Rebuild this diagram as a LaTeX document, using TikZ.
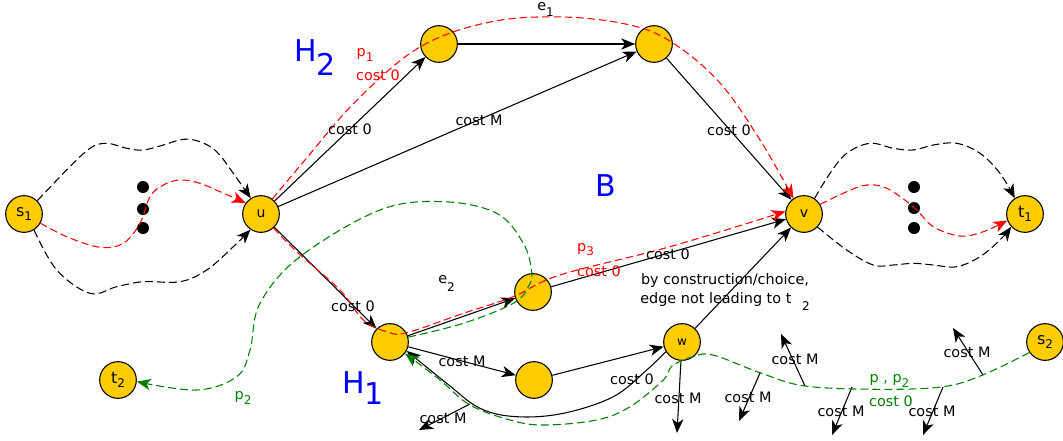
\documentclass[tikz,border=0pt]{standalone}
\usepackage{fontspec}
\setmainfont{DejaVu Sans}
\usetikzlibrary{arrows.meta}
\definecolor{nodefill}{HTML}{FFCC00}
\definecolor{pgreen}{HTML}{008000}
\newcommand{\sbs}[2][-3.5pt]{\raisebox{#1}{\fontsize{9}{9}\selectfont #2}}
\begin{document}
\begin{tikzpicture}[x=0.75pt,y=-0.75pt,
  vtx/.style={circle,draw=black,line width=0.8pt,fill=nodefill,minimum size=27.5pt,inner sep=0pt,font=\fontsize{12}{12}\selectfont},
  dotn/.style={circle,fill=black,minimum size=9pt,inner sep=0pt},
  lbl/.style={inner sep=0pt,font=\fontsize{10.8}{12}\selectfont},
  big/.style={inner sep=0pt,text=blue,font=\fontsize{22.5}{24}\selectfont},
  tip/.style={-{Stealth[length=10.5pt,width=8.5pt,inset=3pt]}},
  edge/.style={draw=black,line width=0.8pt,tip},
  bdash/.style={draw=black,line width=0.8pt,dash pattern=on 6pt off 3pt,tip},
  rdash/.style={draw=red,line width=0.8pt,dash pattern=on 5.5pt off 3pt,tip},
  gdash/.style={draw=pgreen,line width=0.8pt,dash pattern=on 6pt off 3pt,tip},
]
\useasboundingbox (0,0) rectangle (1063,440);

% vertices
\node[vtx] (s1) at (24,214) {s\sbs{1}};
\node[vtx,font=\fontsize{10.5}{11}\selectfont] (u) at (261,214) {u};
\node[vtx] (tl) at (439,44) {};
\node[vtx] (tr) at (654,44) {};
\node[vtx,font=\fontsize{10.5}{11}\selectfont] (v) at (804,214) {v};
\node[vtx] (t1) at (1025,214) {t\sbs{1}};
\node[vtx] (x1) at (390,342) {};
\node[vtx] (e2n) at (533,292) {};
\node[vtx] (bm) at (534,380) {};
\node[vtx,font=\fontsize{9}{9}\selectfont] (w) at (682,342) {w};
\node[vtx] (s2) at (1045,342) {s\sbs{2}};
\node[vtx] (t2) at (118,380) {t\sbs{2}};

% dots
\node[dotn] (dl1) at (143,187) {};
\node[dotn] (dl2) at (143,209) {};
\node[dotn] (dl3) at (143,228) {};
\node[dotn] (dr1) at (914,187) {};
\node[dotn] (dr2) at (914,208) {};
\node[dotn] (dr3) at (914,228) {};

% free ends
\coordinate (wd) at (677,433);
\coordinate (ll1) at (470,404);
\coordinate (ll2) at (419,430);
\coordinate (a1s) at (760,373); \coordinate (a1e) at (739,421);
\coordinate (a2s) at (805,386); \coordinate (a2e) at (781,334);
\coordinate (a3s) at (852,387); \coordinate (a3e) at (832,435);
\coordinate (a4s) at (943,387); \coordinate (a4e) at (923,435);
\coordinate (a5s) at (983,375); \coordinate (a5e) at (953,328);

% black solid edges
\draw[edge] (u) -- (tl);
\draw[edge] (u) -- (tr);
\draw[edge] (tl) -- (tr);
\draw[edge] (tr) -- (v);
\draw[edge] (u) -- (x1);
\draw[edge] (x1) -- (e2n);
\draw[edge] (e2n) -- (v);
\draw[edge] (x1) -- (bm);
\draw[edge] (bm) -- (w);
\draw[edge] (w) -- (v);
\draw[edge] (w) -- (wd);
\draw[edge] (ll1) -- (ll2);
\draw[edge] (a1s) -- (a1e);
\draw[edge] (a2s) -- (a2e);
\draw[edge] (a3s) -- (a3e);
\draw[edge] (a4s) -- (a4e);
\draw[edge] (a5s) -- (a5e);
\draw[edge] plot[smooth,tension=0.6] coordinates {(w.211) (646.7,370) (613.3,396.7) (563.3,413.3) (516.7,416.7) (480,408.3) (446.7,383.3) (x1.-28)};

% black dashed
\draw[bdash] plot[smooth,tension=0.6] coordinates {(s1.45) (66.7,170) (90,148.3) (106.7,143.3) (126.7,148.3) (143.3,150) (163.3,145) (183.3,139.3) (200,141.7) (216.7,151.7) (233.3,173.3) (u.123)};
\draw[bdash] plot[smooth,tension=0.6] coordinates {(s1.-58) (56.7,270) (90,293.3) (116.7,286.7) (143.3,281.7) (180,281.7) (206.7,270) (233.3,246.7) (u.236)};
\draw[bdash] plot[smooth,tension=0.6] coordinates {(v.56) (830,173.3) (846.7,153.3) (870,143.3) (893.3,148.3) (913.3,150) (933.3,145) (956.7,143.3) (980,153.3) (1000,173.3) (t1.123)};
\draw[bdash] plot[smooth,tension=0.6] coordinates {(v.-44) (846.7,250) (873.3,265) (893.3,265) (913.3,263.3) (933.3,265) (956.7,266.7) (980,256.7) (1000,240) (t1.223)};

% red dashed
\draw[rdash] plot[smooth,tension=0.6] coordinates {(s1.-29) (66.7,236.7) (100,247.3) (123.3,243.3) (140,223.3) (150,196.7) (163.3,185) (180,180) (200,183.3) (220,191.7) (u.144)};
\draw[rdash] plot[smooth,tension=0.6] coordinates {(v.31) (846.7,191.7) (866.7,185) (886.7,188.3) (913.3,206.7) (933.3,226.7) (960,236) (983.3,231.7) (t1.200)};
\draw[rdash] plot[smooth,tension=0.6] coordinates {(u.53) (305,160) (357,100) (420,47) (490,22) (563,17) (630,25) (673,43) (720,83) (760,140) (v.124)};
\draw[rdash] plot[smooth,tension=0.6] coordinates {(u.-48) (296.7,251.7) (340,290) (363.3,320) (386.7,331.7) (406.7,332.7) (463.3,313.3) (513.3,296.7) (560,275) (670,246.7) (v.172)};

% green dashed
\draw[gdash] plot[smooth,tension=0.6] coordinates {(s2.214) (982.7,375) (943.3,386.7) (880,389.3) (805,386) (760,372.7) (713,355) (692,357) (672,366) (663.3,380) (630,406.7) (596.7,420) (543.3,425) (510,420) (470,405) (440,380) (x1.-37)};
\draw[gdash] plot[smooth,tension=0.6] coordinates {(x1.15) (463.3,323.3) (513.3,303.3) (528.3,286.7) (531.7,272) (523.3,243.3) (496.7,213.3) (443.3,201.7) (380,210) (300,256.7) (260,303.3) (250,350) (236.7,376.7) (196.7,390) (t2.-5)};

% labels
\node[lbl] (c1) at (350,129.5) {cost 0};
\node[lbl] (c2) at (479,120) {cost M};
\node[lbl] (c3) at (729,130) {cost 0};
\node[lbl] (c4) at (353,306) {cost 0};
\node[lbl] (c5) at (668,254) {cost 0};
\node[lbl] (c6) at (462,361) {cost M};
\node[lbl] (c7) at (632,379) {cost 0};
\node[lbl] (c8) at (678,398) {cost M};
\node[lbl] (c9) at (443,418) {cost M};
\node[lbl] (c10) at (748,397) {cost M};
\node[lbl] (c11) at (795,359) {cost M};
\node[lbl] (c12) at (841,411) {cost M};
\node[lbl] (c13) at (932,411) {cost M};
\node[lbl] (c14) at (967,352) {cost M};
\node[lbl,align=center,font=\fontsize{10.8}{14.3}\selectfont] (note) at (725,292) {by construction/choice,\\edge not leading to t\hspace{8pt}\raisebox{-5.5pt}{\fontsize{9}{9}\selectfont 2}};
\node[lbl] (le1) at (545.5,9.5) {e\sbs[-4.5pt]{1}};
\node[lbl] (le2) at (446.5,283.5) {e\sbs[-6pt]{2}};
\node[lbl,text=red] (lp1) at (365,55) {p\sbs{1}};
\node[lbl,text=red] (lc1) at (378,75) {cost 0};
\node[lbl,text=red] (lp3) at (585.5,249.5) {p\sbs{3}};
\node[lbl,text=red] (lc3) at (599,271) {cost 0};
\node[lbl,text=pgreen] (lpp) at (889.5,381) {p , p\sbs{2}};
\node[lbl,text=pgreen] (lcp) at (891,401) {cost 0};
\node[lbl,text=pgreen] (lp2) at (243,398) {p\sbs{2}};
\node[big] (H2) at (315,57.5) {H\raisebox{-10pt}{2}};
\node[big] (H1) at (363,388) {H\raisebox{-8.6pt}{1}};
\node[big] (B) at (606,186) {B};
\end{tikzpicture}
\end{document}
